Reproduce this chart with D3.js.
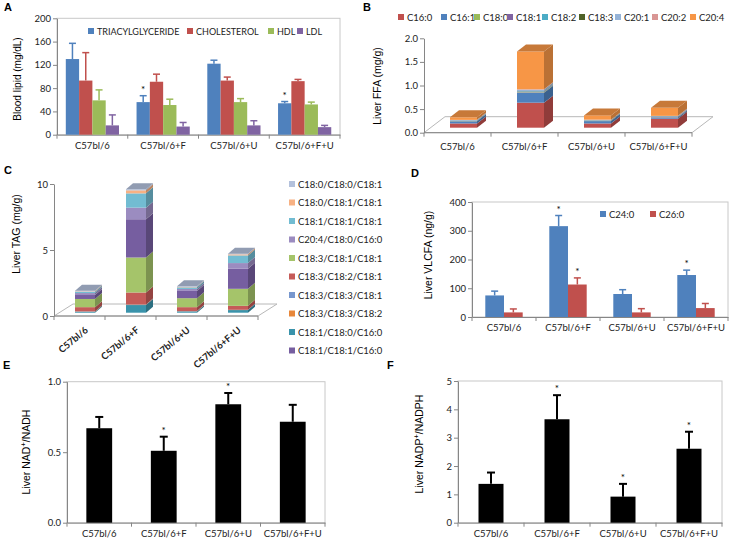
<!DOCTYPE html>
<html><head><meta charset="utf-8">
<script src="https://cdn.jsdelivr.net/npm/d3@7"></script>
<style>body{margin:0;background:#fff}svg{display:block}</style>
</head><body>
<svg id="chart" width="731" height="543"></svg>
<script>
// ---------- DATA ----------
const groups = ["C57bl/6", "C57bl/6+F", "C57bl/6+U", "C57bl/6+F+U"];

// Panel A: blood lipids (mg/dL)
const lipidNames = ["TRIACYLGLYCERIDE", "CHOLESTEROL", "HDL", "LDL"];
const tgMean = [130, 56, 122, 54];
const tgErr = [27, 11, 6, 3];
const cholMean = [93, 91, 93, 92];
const cholErr = [48, 13, 6, 3];
const hdlMean = [59, 51, 56, 52];
const hdlErr = [18, 10, 6, 4];
const ldlMean = [16, 14, 16, 13];
const ldlErr = [18, 7, 8, 3];
const tgStars = [false, true, false, true];
const lipidTicks = [0, 40, 80, 120, 160, 200];

// Panel B: liver FFA (mg/g), stacked bottom -> top
const ffaNames = ["C16:0", "C16:1", "C18:0", "C18:1", "C18:2", "C18:3", "C20:1", "C20:2", "C20:4"];
const ffaC16_0 = [0.09, 0.53, 0.09, 0.19];
const ffaC16_1 = [0.045, 0.21, 0.05, 0.025];
const ffaC18_0 = [0.005, 0.01, 0.005, 0.005];
const ffaC18_1 = [0.005, 0.01, 0.005, 0.01];
const ffaC18_2 = [0.005, 0.01, 0.005, 0.005];
const ffaC18_3 = [0.003, 0.005, 0.003, 0.003];
const ffaC20_1 = [0.01, 0.03, 0.01, 0.01];
const ffaC20_2 = [0.003, 0.01, 0.003, 0.003];
const ffaC20_4 = [0.055, 0.80, 0.09, 0.17];
const ffaTicks = [0, 0.5, 1.0, 1.5, 2.0];

// Panel C: liver TAG (mg/g); legend order (top -> bottom)
const tagLegend = ["C18:0/C18:0/C18:1", "C18:0/C18:1/C18:1", "C18:1/C18:1/C18:1", "C20:4/C18:0/C16:0",
  "C18:3/C18:1/C18:1", "C18:3/C18:2/C18:1", "C18:3/C18:3/C18:1", "C18:3/C18:3/C18:2",
  "C18:1/C18:0/C16:0", "C18:1/C18:1/C16:0"];
// stack order (bottom -> top)
const tagStackOrder = ["C18:1/C18:0/C16:0", "C18:3/C18:3/C18:2", "C18:3/C18:3/C18:1", "C18:3/C18:2/C18:1",
  "C18:3/C18:1/C18:1", "C18:1/C18:1/C16:0", "C20:4/C18:0/C16:0", "C18:1/C18:1/C18:1",
  "C18:0/C18:1/C18:1", "C18:0/C18:0/C18:1"];
const tag_181_180_160 = [0.08, 0.58, 0.10, 0.20];
const tag_183_183_182 = [0.01, 0.02, 0.01, 0.01];
const tag_183_183_181 = [0.01, 0.02, 0.01, 0.01];
const tag_183_182_181 = [0.32, 0.91, 0.30, 0.30];
const tag_183_181_181 = [0.62, 2.65, 0.68, 1.29];
const tag_181_181_160 = [0.30, 2.90, 0.55, 1.52];
const tag_204_180_160 = [0.15, 0.88, 0.15, 0.43];
const tag_181_181_181 = [0.10, 1.08, 0.12, 0.58];
const tag_180_181_181 = [0.03, 0.23, 0.03, 0.08];
const tag_180_180_181 = [0.05, 0.08, 0.05, 0.05];
const tagTicks = [0, 5, 10];

// Panel D: liver VLCFA (ng/g)
const vlcfaNames = ["C24:0", "C26:0"];
const c24Mean = [75, 316, 80, 146];
const c24Err = [15, 37, 15, 17];
const c26Mean = [16, 113, 16, 31];
const c26Err = [12, 23, 13, 16];
const c24Stars = [false, true, false, true];
const c26Stars = [false, true, false, false];
const vlcfaTicks = [0, 100, 200, 300, 400];

// Panel E: NAD+/NADH
const nadMean = [0.67, 0.51, 0.84, 0.716];
const nadErr = [0.08, 0.10, 0.08, 0.12];
const nadStars = [false, true, true, false];
const nadTicks = [0, 0.5, 1.0];

// Panel F: NADP+/NADPH
const nadpMean = [1.37, 3.65, 0.92, 2.61];
const nadpErr = [0.40, 0.85, 0.45, 0.60];
const nadpStars = [false, true, true, true];
const nadpTicks = [0, 1, 2, 3, 4, 5];

// ---------- STYLE ----------
const FONT = "Lato, Carlito, sans-serif";
const TITLEFONT = "'Liberation Sans', Arial, sans-serif";
const AXIS = "#868686";
const FRAME = "#c8c8c8";
const lipidColors = ["#4F81BD", "#C0504D", "#9BBB59", "#8064A2"];
const ffaColors = ["#C0504D", "#4F81BD", "#9BBB59", "#8064A2", "#4BACC6", "#4F6228", "#95B3D7", "#D99694", "#F79646"];
const tagColorMap = {
  "C18:0/C18:0/C18:1": "#B3C1DC", "C18:0/C18:1/C18:1": "#F7B183", "C18:1/C18:1/C18:1": "#72BCD2",
  "C20:4/C18:0/C16:0": "#9B8CC0", "C18:3/C18:1/C18:1": "#A5C46A", "C18:3/C18:2/C18:1": "#C55B58",
  "C18:3/C18:3/C18:1": "#7797CE", "C18:3/C18:3/C18:2": "#E8873A", "C18:1/C18:0/C16:0": "#3A93AB",
  "C18:1/C18:1/C16:0": "#765EA0"
};
const vlcfaColors = ["#4F81BD", "#C0504D"];

const svg = d3.select("#chart");

function panelLabel(t, x, y) {
  svg.append("text").attr("x", x).attr("y", y).text(t)
    .attr("font-family", TITLEFONT).attr("font-weight", "bold").attr("font-size", 11);
}
function yTitle(parts, x, y, size) {
  const t = svg.append("text").attr("transform", `translate(${x},${y}) rotate(-90)`)
    .attr("text-anchor", "middle").attr("font-family", TITLEFONT).attr("font-size", size || 10.5);
  parts.forEach(p => {
    const s = t.append("tspan").text(p.t);
    if (p.sup) s.attr("baseline-shift", "super").attr("font-size", (size || 10.5) * 0.7);
  });
}
function styleAxis(g) {
  g.selectAll("path.domain").attr("stroke", AXIS);
  g.selectAll(".tick line").attr("stroke", AXIS);
  g.selectAll(".tick text").attr("font-family", FONT).attr("font-size", 9.5).attr("fill", "#222");
}

// generic 2D bar panel
function panel2D(o) {
  const y = d3.scaleLinear().domain([o.ticks[0], o.ticks[o.ticks.length - 1]]).range([o.y0, o.y1]);
  const x = d3.scaleBand().domain(groups).range([o.x0, o.x1]).paddingInner(0).paddingOuter(0);
  const g = svg.append("g");
  g.append("rect").attr("x", o.x0).attr("y", o.y1).attr("width", o.x1 - o.x0).attr("height", o.y0 - o.y1)
    .attr("fill", "none").attr("stroke", FRAME).attr("stroke-width", 1);
  const ya = g.append("g").attr("transform", `translate(${o.x0},0)`)
    .call(d3.axisLeft(y).tickValues(o.ticks).tickFormat(o.fmt).tickSize(4).tickSizeOuter(0));
  styleAxis(ya);
  ya.selectAll(".tick text").attr("x", -6);
  const xa = g.append("g").attr("transform", `translate(0,${o.y0})`)
    .call(d3.axisBottom(x).tickSize(0).tickSizeOuter(0));
  styleAxis(xa);
  xa.selectAll(".tick text").attr("dy", "1.05em").attr("y", 4);
  d3.range(groups.length + 1).forEach(i => {
    const xx = o.x0 + i * x.step();
    g.append("line").attr("x1", xx).attr("x2", xx).attr("y1", o.y0).attr("y2", o.y0 + 4).attr("stroke", AXIS);
  });
  const sub = d3.scaleBand().domain(d3.range(o.series.length)).range(o.subRange);
  o.series.forEach((s, k) => {
    groups.forEach((grp, i) => {
      const bx = x(grp) + sub(k), bw = sub.bandwidth(), cx = bx + bw / 2;
      const col = o.colors[k];
      g.append("rect").attr("x", bx).attr("y", y(s.mean[i])).attr("width", bw)
        .attr("height", y(0) - y(s.mean[i])).attr("fill", col);
      const ec = o.errColor || col;
      const top = y(s.mean[i] + s.err[i]);
      g.append("line").attr("x1", cx).attr("x2", cx).attr("y1", y(s.mean[i])).attr("y2", top)
        .attr("stroke", ec).attr("stroke-width", o.errW);
      g.append("line").attr("x1", cx - o.cap / 2).attr("x2", cx + o.cap / 2).attr("y1", top).attr("y2", top)
        .attr("stroke", ec).attr("stroke-width", o.errW);
      if (s.stars && s.stars[i]) {
        g.append("text").attr("x", cx).attr("y", top - 3).attr("text-anchor", "middle")
          .attr("font-family", FONT).attr("font-size", 10).text("*");
      }
    });
  });
  return { x, y, g };
}

// ---------- PANEL A ----------
panelLabel("A", 4, 11);
yTitle([{ t: "Blood lipid (mg/dL)" }], 20.5, 79, 10);
panel2D({
  x0: 57, x1: 340, y0: 134.7, y1: 18.3, ticks: lipidTicks, fmt: d3.format("d"),
  subRange: [8.8, 62], errW: 1.5, cap: 7, colors: lipidColors,
  series: [
    { mean: tgMean, err: tgErr, stars: tgStars },
    { mean: cholMean, err: cholErr },
    { mean: hdlMean, err: hdlErr },
    { mean: ldlMean, err: ldlErr }
  ]
});
const legAx = [88, 187, 268, 297];
lipidNames.forEach((n, k) => {
  svg.append("rect").attr("x", legAx[k]).attr("y", 28).attr("width", 6).attr("height", 6).attr("fill", lipidColors[k]);
  svg.append("text").attr("x", legAx[k] + 9).attr("y", 34.5).text(n)
    .attr("font-family", FONT).attr("font-size", 9).attr("fill", "#222");
});

// ---------- 3D stacked helper ----------
function panel3D(o) {
  const y = d3.scaleLinear().domain([o.ticks[0], o.ticks[o.ticks.length - 1]]).range([o.y0, o.y1]);
  const x = d3.scaleBand().domain(groups).range([o.x0, o.x1]);
  const g = svg.append("g");
  g.append("path").attr("d",
    `M${o.x0},${o.y0}L${o.x0 + o.fdx},${o.y0 + o.fdy}L${o.x1 + o.fdx},${o.y0 + o.fdy}L${o.x1},${o.y0}Z`)
    .attr("fill", "none").attr("stroke", "#b8b8b8").attr("stroke-width", 1);
  const ya = g.append("g").attr("transform", `translate(${o.x0},0)`)
    .call(d3.axisLeft(y).tickValues(o.ticks).tickFormat(o.fmt).tickSize(4).tickSizeOuter(0));
  styleAxis(ya);
  ya.selectAll(".tick text").attr("x", -6);
  d3.range(groups.length + 1).forEach(i => {
    const xx = o.x0 + i * x.step();
    g.append("line").attr("x1", xx).attr("x2", xx).attr("y1", o.y0).attr("y2", o.y0 + 4).attr("stroke", AXIS);
  });
  g.append("line").attr("x1", o.x0).attr("x2", o.x1).attr("y1", o.y0).attr("y2", o.y0).attr("stroke", AXIS);
  groups.forEach((grp, i) => {
    const cx = x(grp) + x.bandwidth() / 2 + o.ox;
    const xl = cx - o.bw / 2, xr = cx + o.bw / 2;
    let cum = 0, topCol = null, yt = y(0) + o.oy;
    o.series.forEach((s, k) => {
      const v = s[i];
      if (!(v > 0)) return;
      const yb = y(cum) + o.oy;
      yt = y(cum + v) + o.oy;
      const col = o.colors[k];
      g.append("rect").attr("x", xl).attr("y", yt).attr("width", o.bw).attr("height", yb - yt).attr("fill", col);
      g.append("path").attr("d", `M${xr},${yb}L${xr + o.dx},${yb + o.dy}L${xr + o.dx},${yt + o.dy}L${xr},${yt}Z`)
        .attr("fill", d3.color(col).darker(0.8));
      cum += v; topCol = col;
    });
    g.append("path").attr("d", `M${xl},${yt}L${xl + o.dx},${yt + o.dy}L${xr + o.dx},${yt + o.dy}L${xr},${yt}Z`)
      .attr("fill", d3.color(topCol).darker(0.6));
  });
  return { x, y, g };
}

// ---------- PANEL B ----------
panelLabel("B", 363, 11);
yTitle([{ t: "Liver FFA (mg/g)" }], 380.5, 86, 10.5);
const pB = panel3D({
  x0: 424, x1: 692, y0: 132.7, y1: 38.3, ticks: ffaTicks, fmt: d3.format(".1f"),
  fdx: 21, fdy: -16, ox: 6, oy: -5, dx: 9, dy: -7, bw: 27,
  colors: ffaColors,
  series: [ffaC16_0, ffaC16_1, ffaC18_0, ffaC18_1, ffaC18_2, ffaC18_3, ffaC20_1, ffaC20_2, ffaC20_4]
});
groups.forEach(grp => {
  svg.append("text").attr("x", pB.x(grp) + pB.x.bandwidth() / 2).attr("y", 150).attr("text-anchor", "middle")
    .attr("font-family", FONT).attr("font-size", 9.5).attr("fill", "#222").text(grp);
});
const legBx = [398, 441, 474, 507, 542, 579, 615, 652, 690];
ffaNames.forEach((n, k) => {
  svg.append("rect").attr("x", legBx[k]).attr("y", 14).attr("width", 6).attr("height", 6).attr("fill", ffaColors[k]);
  svg.append("text").attr("x", legBx[k] + 9).attr("y", 20.5).text(n)
    .attr("font-family", FONT).attr("font-size", 9.5).attr("fill", "#222");
});

// ---------- PANEL C ----------
panelLabel("C", 4, 174);
yTitle([{ t: "Liver TAG (mg/g)" }], 19.5, 234, 10.5);
const tagSeriesMap = {
  "C18:1/C18:0/C16:0": tag_181_180_160, "C18:3/C18:3/C18:2": tag_183_183_182, "C18:3/C18:3/C18:1": tag_183_183_181,
  "C18:3/C18:2/C18:1": tag_183_182_181, "C18:3/C18:1/C18:1": tag_183_181_181, "C18:1/C18:1/C16:0": tag_181_181_160,
  "C20:4/C18:0/C16:0": tag_204_180_160, "C18:1/C18:1/C18:1": tag_181_181_181, "C18:0/C18:1/C18:1": tag_180_181_181,
  "C18:0/C18:0/C18:1": tag_180_180_181
};
const pC = panel3D({
  x0: 54, x1: 258, y0: 316, y1: 184, ticks: tagTicks, fmt: d3.format("d"),
  fdx: 19, fdy: -12, ox: 5.5, oy: -3.3, dx: 7, dy: -6, bw: 20,
  colors: tagStackOrder.map(n => tagColorMap[n]),
  series: tagStackOrder.map(n => tagSeriesMap[n])
});
groups.forEach(grp => {
  const cx = pC.x(grp) + pC.x.bandwidth() / 2;
  svg.append("text").attr("transform", `translate(${cx + 5},${326}) rotate(-40)`)
    .attr("text-anchor", "end").attr("dy", "0.7em")
    .attr("font-family", FONT).attr("font-size", 9.5).attr("font-weight", "bold").attr("fill", "#222").text(grp);
});
tagLegend.forEach((n, k) => {
  const yy = 184 + k * 18.5;
  svg.append("rect").attr("x", 289).attr("y", yy - 3).attr("width", 6).attr("height", 6).attr("fill", tagColorMap[n]);
  svg.append("text").attr("x", 298).attr("y", yy + 3.5).text(n)
    .attr("font-family", FONT).attr("font-size", 9.5).attr("fill", "#222");
});

// ---------- PANEL D ----------
panelLabel("D", 411, 177);
yTitle([{ t: "Liver VLCFA (ng/g)" }], 431.5, 255, 10.5);
panel2D({
  x0: 472, x1: 728, y0: 317, y1: 202, ticks: vlcfaTicks, fmt: d3.format("d"),
  subRange: [13.3, 50.7], errW: 1.5, cap: 7, colors: vlcfaColors,
  series: [
    { mean: c24Mean, err: c24Err, stars: c24Stars },
    { mean: c26Mean, err: c26Err, stars: c26Stars }
  ]
});
const legDx = [600, 650];
vlcfaNames.forEach((n, k) => {
  svg.append("rect").attr("x", legDx[k]).attr("y", 211).attr("width", 6).attr("height", 6).attr("fill", vlcfaColors[k]);
  svg.append("text").attr("x", legDx[k] + 9).attr("y", 217.5).text(n)
    .attr("font-family", FONT).attr("font-size", 9.5).attr("fill", "#222");
});

// ---------- PANEL E ----------
panelLabel("E", 3, 369);
yTitle([{ t: "Liver NAD" }, { t: "+", sup: true }, { t: "/NADH" }], 30, 452, 10.5);
panel2D({
  x0: 67, x1: 325, y0: 522.7, y1: 381.7, ticks: nadTicks, fmt: d3.format(".1f"),
  subRange: [19.35, 45.15], errW: 2, cap: 8, colors: ["#000"], errColor: "#000",
  series: [{ mean: nadMean, err: nadErr, stars: nadStars }]
});

// ---------- PANEL F ----------
panelLabel("F", 387, 369);
yTitle([{ t: "Liver NADP" }, { t: "+", sup: true }, { t: "/NADPH" }], 423, 444, 10.5);
panel2D({
  x0: 458, x1: 722, y0: 522.7, y1: 381, ticks: nadpTicks, fmt: d3.format("d"),
  subRange: [20.5, 45.5], errW: 2, cap: 8, colors: ["#000"], errColor: "#000",
  series: [{ mean: nadpMean, err: nadpErr, stars: nadpStars }]
});
</script>
</body></html>
